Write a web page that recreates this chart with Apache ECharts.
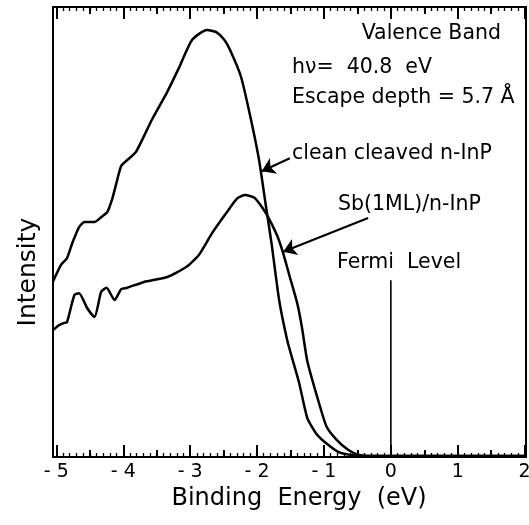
<!DOCTYPE html>
<html>
<head>
<meta charset="utf-8">
<script src="https://cdn.jsdelivr.net/npm/echarts/dist/echarts.min.js"></script>
<style>
  html, body { margin: 0; padding: 0; background: #fff; }
  #chart { width: 529px; height: 525px; }
</style>
</head>
<body>
<div id="chart"></div>
<script>
// binding energy (eV), intensity (arb. units, 0-100)
const cleanInP = [
  [-5.05, 39.0], [-4.93, 42.7], [-4.84, 44.2], [-4.76, 47.6], [-4.66, 51.1],
  [-4.58, 52.2], [-4.51, 52.2], [-4.43, 52.2], [-4.33, 53.3], [-4.24, 54.4],
  [-4.16, 57.6], [-4.09, 61.6], [-4.03, 64.7], [-3.94, 66.0], [-3.81, 67.8],
  [-3.57, 75.0], [-3.34, 81.2], [-3.16, 86.7], [-2.97, 92.7], [-2.75, 94.9],
  [-2.61, 94.4], [-2.49, 92.7], [-2.39, 90.0], [-2.24, 84.5], [-2.10, 75.6],
  [-1.97, 66.0], [-1.87, 56.0], [-1.78, 47.1], [-1.67, 34.9], [-1.55, 26.0],
  [-1.48, 22.2], [-1.37, 16.4], [-1.25, 8.7], [-1.12, 5.3], [-0.97, 3.1],
  [-0.78, 1.1], [-0.52, 0.3], [-0.33, 0.2], [2.0, 0.2]
];
const sbOnInP = [
  [-5.05, 28.2], [-4.96, 29.3], [-4.88, 29.8], [-4.84, 30.0], [-4.73, 36.0],
  [-4.66, 36.4], [-4.54, 33.1], [-4.43, 31.1], [-4.33, 36.7], [-4.25, 37.6],
  [-4.13, 34.9], [-4.03, 37.3], [-3.94, 37.6], [-3.69, 38.9], [-3.34, 40.0],
  [-3.06, 42.2], [-2.87, 44.9], [-2.67, 49.8], [-2.46, 54.2], [-2.30, 57.4],
  [-2.18, 58.2], [-2.04, 57.6], [-1.92, 55.4], [-1.83, 53.2], [-1.70, 49.2],
  [-1.61, 45.3], [-1.51, 40.0], [-1.40, 34.2], [-1.33, 28.9], [-1.25, 21.4],
  [-1.10, 13.3], [-0.96, 6.7], [-0.81, 3.8], [-0.64, 1.6], [-0.49, 0.5],
  [-0.31, 0.2], [2.0, 0.2]
];
const fermiLevel = [[0, 0], [0, 39.3]];

const FONT = '"DejaVu Sans", sans-serif';

const chart = echarts.init(document.getElementById('chart'));

const tickAxis = (position, interval, len, withLabels) => ({
  gridIndex: 1,
  type: 'value',
  position: position,
  min: -5,
  max: 2,
  interval: interval,
  axisLine: { show: false },
  axisTick: { show: true, inside: true, length: len, lineStyle: { color: '#000', width: 2 } },
  minorTick: { show: withLabels !== null, splitNumber: 10, length: 4, lineStyle: { color: '#000', width: 1.3 } },
  axisLabel: {
    show: !!withLabels,
    margin: 6,
    color: '#000',
    fontFamily: FONT,
    fontSize: 19,
    formatter: v => (v < 0 ? '- ' + Math.abs(v) : String(v))
  },
  splitLine: { show: false }
});

const bottomAxis = tickAxis('bottom', 1, 12, true);
bottomAxis.name = 'Binding  Energy  (eV)';
bottomAxis.nameLocation = 'middle';
bottomAxis.nameGap = 30;
bottomAxis.nameTextStyle = { color: '#000', fontFamily: FONT, fontSize: 24, padding: [0, 0, 0, 17] };

const arrowLine = (from, to) => ({
  silent: true,
  animation: false,
  symbol: ['none', 'arrow'],
  symbolSize: 13,
  label: { show: false },
  lineStyle: { color: '#000', width: 2.2, type: 'solid' },
  emphasis: { disabled: true },
  data: [[{ coord: from }, { coord: to }]]
});

const text = (str, x, y, align) => ({
  type: 'text',
  x: x,
  y: y,
  style: {
    text: str,
    fill: '#000',
    font: '20.5px ' + FONT,
    align: align || 'left',
    verticalAlign: 'middle',
    textAlign: align || 'left',
    textVerticalAlign: 'middle'
  }
});

chart.setOption({
  animation: false,
  grid: [
    { left: 53, right: 3, top: 7, bottom: 68, show: true, borderColor: '#000', borderWidth: 2, outerBoundsMode: 'none' },
    { left: 56.35, right: 4.35, top: 7, bottom: 68, outerBoundsMode: 'none' }
  ],
  xAxis: [
    {
      gridIndex: 0, type: 'value', min: -5.05, max: 2.02,
      axisLine: { show: false }, axisTick: { show: false }, axisLabel: { show: false }, splitLine: { show: false }
    },
    bottomAxis,
    tickAxis('top', 1, 12, false),
    tickAxis('bottom', 0.5, 7, null),
    tickAxis('top', 0.5, 7, null)
  ],
  yAxis: [
    {
      gridIndex: 0, type: 'value', min: 0, max: 100,
      axisLine: { show: false }, axisTick: { show: false }, axisLabel: { show: false }, splitLine: { show: false },
      name: 'Intensity',
      nameLocation: 'middle',
      nameGap: 12,
      nameTextStyle: { color: '#000', fontFamily: FONT, fontSize: 25, padding: [0, 80, 0, 0] }
    },
    { gridIndex: 1, type: 'value', min: 0, max: 100, show: false }
  ],
  series: [
    {
      name: 'clean cleaved n-InP',
      type: 'line',
      xAxisIndex: 0, yAxisIndex: 0,
      data: cleanInP,
      showSymbol: false,
      smooth: 0.2,
      lineStyle: { color: '#000', width: 2.5 },
      markLine: arrowLine([-1.51, 66.4], [-1.93, 63.5])
    },
    {
      name: 'Sb(1ML)/n-InP',
      type: 'line',
      xAxisIndex: 0, yAxisIndex: 0,
      data: sbOnInP,
      showSymbol: false,
      smooth: 0.2,
      lineStyle: { color: '#000', width: 2.5 },
      markLine: arrowLine([-0.34, 53.1], [-1.61, 45.6])
    },
    {
      name: 'Fermi Level',
      type: 'line',
      xAxisIndex: 0, yAxisIndex: 0,
      data: fermiLevel,
      showSymbol: false,
      lineStyle: { color: '#000', width: 1.6 }
    }
  ],
  graphic: [
    text('Valence Band', 501, 34, 'right'),
    text('h\u03bd=  40.8  eV', 292, 68),
    text('Escape depth = 5.7 \u00c5', 292, 98),
    text('clean cleaved n-InP', 292, 154),
    text('Sb(1ML)/n-InP', 338, 205),
    text('Fermi  Level', 337, 263)
  ]
});
</script>
</body>
</html>
